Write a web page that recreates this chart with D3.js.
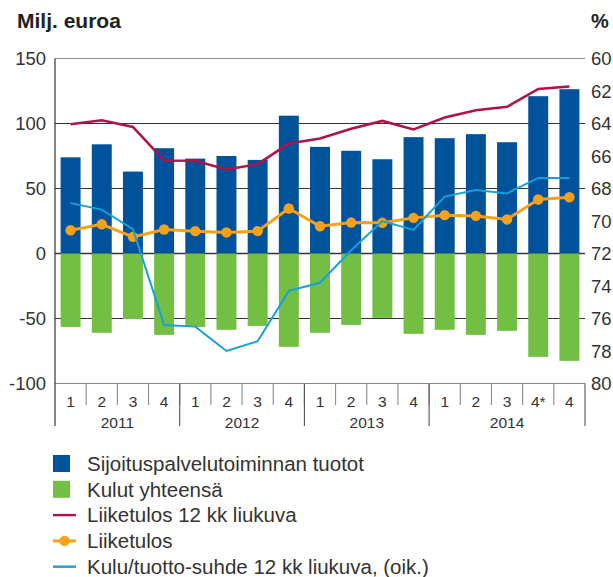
<!DOCTYPE html>
<html>
<head>
<meta charset="utf-8">
<script src="https://cdnjs.cloudflare.com/ajax/libs/d3/7.8.5/d3.min.js"></script>
<style>
	body { margin: 0; background: #fff; }
	svg { font-family: 'Liberation Sans', Arial, sans-serif; }
</style>
</head>
<body>
<div id="chart"></div>
<script>
// Neljännekset ja vuodet
var quarters = ['1', '2', '3', '4', '1', '2', '3', '4', '1', '2', '3', '4', '1', '2', '3', '4*', '4'];
var years = [
	{ label: '2011', from: 0, to: 4 },
	{ label: '2012', from: 4, to: 8 },
	{ label: '2013', from: 8, to: 12 },
	{ label: '2014', from: 12, to: 17 }
];

// Milj. euroa (vasen akseli)
var tuotot = [74, 84, 63, 81, 73, 75, 72, 106, 82, 79, 72.5, 89.5, 88.7, 91.8, 85.6, 121, 126.4];
var kulut = [-56.5, -61, -50.5, -62.6, -56.5, -58.7, -55.7, -71.8, -61, -54.9, -49.5, -61.8, -58.7, -62.6, -59.5, -79.5, -82.6];
var liiketulos12 = [99.4, 102.5, 97.4, 71.5, 71.3, 64.6, 68.7, 84.6, 88.5, 96, 102, 95.4, 104.6, 110.2, 112.8, 126.6, 128.5];
var liiketulos = [17.9, 22.5, 12.8, 18.5, 17.2, 16.2, 17.2, 34.6, 21, 23.8, 23.6, 27.4, 29.5, 28.9, 26.2, 41.5, 43.3];

// % (oikea akseli, käänteinen)
var kuluTuotto = [68.9, 69.3, 70.5, 76.4, 76.5, 78.0, 77.4, 74.3, 73.8, 71.8, 70.0, 70.55, 68.5, 68.1, 68.3, 67.35, 67.35];

var leftTicks = [150, 100, 50, 0, -50, -100];
var rightTicks = [60, 62, 64, 66, 68, 70, 72, 74, 76, 78, 80];

var colors = {
	tuotot: '#00529b',
	kulut: '#72bf44',
	liiketulos12: '#b0124a',
	liiketulos: '#f7a11a',
	kuluTuotto: '#169fdd',
	text: '#333'
};

var width = 613, height = 577;
var plot = { left: 55, right: 585, top: 58.5, bottom: 383.5 };

var svg = d3.select('#chart')
	.append('svg')
	.attr('width', width)
	.attr('height', height);

var idx = d3.range(quarters.length);

var x = d3.scaleBand()
	.domain(idx)
	.range([plot.left, plot.right])
	.paddingInner(0.36)
	.paddingOuter(0.18);

var yL = d3.scaleLinear().domain([-100, 150]).range([plot.bottom, plot.top]);
var yR = d3.scaleLinear().domain([80, 60]).range([plot.bottom, plot.top]);

var cx = function(i) { return x(i) + x.bandwidth() / 2; };
var edge = function(i) { return i === quarters.length ? plot.right : x(i) - x.step() * x.paddingInner() / 2; };

// Gridlines
svg.append('g')
	.selectAll('line')
	.data(leftTicks)
	.enter()
	.append('line')
	.attr('x1', plot.left)
	.attr('x2', plot.right)
	.attr('y1', function(d) { return yL(d); })
	.attr('y2', function(d) { return yL(d); })
	.style('stroke', function(d) { return (d === 150 || d === -100) ? '#8a8a8a' : '#333'; })
	.style('stroke-width', function(d) { return d === 0 ? 1.4 : 1.1; });

// Bars
svg.append('g')
	.selectAll('rect')
	.data(tuotot)
	.enter()
	.append('rect')
	.attr('x', function(d, i) { return x(i); })
	.attr('width', x.bandwidth())
	.attr('y', function(d) { return yL(d); })
	.attr('height', function(d) { return yL(0) - yL(d); })
	.style('fill', colors.tuotot);

svg.append('g')
	.selectAll('rect')
	.data(kulut)
	.enter()
	.append('rect')
	.attr('x', function(d, i) { return x(i); })
	.attr('width', x.bandwidth())
	.attr('y', yL(0))
	.attr('height', function(d) { return yL(d) - yL(0); })
	.style('fill', colors.kulut);

// Lines
var lineL = d3.line()
	.x(function(d, i) { return cx(i); })
	.y(function(d) { return yL(d); });
var lineR = d3.line()
	.x(function(d, i) { return cx(i); })
	.y(function(d) { return yR(d); });

svg.append('path')
	.attr('d', lineL(liiketulos12))
	.style('fill', 'none')
	.style('stroke', colors.liiketulos12)
	.style('stroke-width', 2.6);

svg.append('path')
	.attr('d', lineL(liiketulos))
	.style('fill', 'none')
	.style('stroke', colors.liiketulos)
	.style('stroke-width', 3);

svg.append('g')
	.selectAll('circle')
	.data(liiketulos)
	.enter()
	.append('circle')
	.attr('cx', function(d, i) { return cx(i); })
	.attr('cy', function(d) { return yL(d); })
	.attr('r', 5.2)
	.style('fill', colors.liiketulos);

svg.append('path')
	.attr('d', lineR(kuluTuotto))
	.style('fill', 'none')
	.style('stroke', colors.kuluTuotto)
	.style('stroke-width', 2);

// Left axis
svg.append('line')
	.attr('x1', plot.left).attr('x2', plot.left)
	.attr('y1', plot.top).attr('y2', 426)
	.style('stroke', '#333')
	.style('stroke-width', 1.2);

svg.append('g')
	.selectAll('text')
	.data(leftTicks)
	.enter()
	.append('text')
	.attr('x', 46)
	.attr('y', function(d) { return yL(d); })
	.attr('dy', '0.36em')
	.attr('text-anchor', 'end')
	.style('font-size', '18.5px')
	.style('fill', colors.text)
	.text(function(d) { return d; });

// Right axis
svg.append('g')
	.selectAll('text')
	.data(rightTicks)
	.enter()
	.append('text')
	.attr('x', 591)
	.attr('y', function(d) { return yR(d); })
	.attr('dy', '0.36em')
	.style('font-size', '18.5px')
	.style('fill', colors.text)
	.text(function(d) { return d; });

// Axis titles
svg.append('text')
	.attr('x', 17).attr('y', 28)
	.style('font-size', '21px')
	.style('font-weight', 'bold')
	.style('fill', '#222')
	.text('Milj. euroa');

svg.append('text')
	.attr('x', 591).attr('y', 28)
	.style('font-size', '20px')
	.style('font-weight', 'bold')
	.style('fill', '#222')
	.text('%');

// Category axis: quarter separators and labels
svg.append('g')
	.selectAll('line')
	.data(d3.range(1, quarters.length))
	.enter()
	.append('line')
	.attr('x1', edge)
	.attr('x2', edge)
	.attr('y1', plot.bottom)
	.attr('y2', 405)
	.style('stroke', '#8a8a8a')
	.style('stroke-width', 1.1);

svg.append('g')
	.selectAll('line')
	.data(years.slice(1).map(function(y) { return y.from; }).concat([quarters.length]))
	.enter()
	.append('line')
	.attr('x1', edge)
	.attr('x2', edge)
	.attr('y1', plot.bottom)
	.attr('y2', 426)
	.style('stroke', '#555')
	.style('stroke-width', 1.1);

svg.append('g')
	.selectAll('text')
	.data(quarters)
	.enter()
	.append('text')
	.attr('x', function(d, i) { return cx(i); })
	.attr('y', 407)
	.attr('text-anchor', 'middle')
	.style('font-size', '15.5px')
	.style('fill', colors.text)
	.text(function(d) { return d; });

svg.append('g')
	.selectAll('text')
	.data(years)
	.enter()
	.append('text')
	.attr('x', function(d) { return (cx(d.from) + cx(d.to - 1)) / 2; })
	.attr('y', 428)
	.attr('text-anchor', 'middle')
	.style('font-size', '15.5px')
	.style('fill', colors.text)
	.text(function(d) { return d.label; });

// Legend
var legend = [
	{ label: 'Sijoituspalvelutoiminnan tuotot', color: colors.tuotot, type: 'box' },
	{ label: 'Kulut yhteensä', color: colors.kulut, type: 'box' },
	{ label: 'Liiketulos 12 kk liukuva', color: colors.liiketulos12, type: 'line' },
	{ label: 'Liiketulos', color: colors.liiketulos, type: 'dot' },
	{ label: 'Kulu/tuotto-suhde 12 kk liukuva, (oik.)', color: colors.kuluTuotto, type: 'line' }
];

var lg = svg.append('g')
	.selectAll('g')
	.data(legend)
	.enter()
	.append('g')
	.attr('transform', function(d, i) { return 'translate(0,' + (463.5 + i * 25.8) + ')'; });

lg.filter(function(d) { return d.type === 'box'; })
	.append('rect')
	.attr('x', 53).attr('y', -8.5)
	.attr('width', 17).attr('height', 17)
	.style('fill', function(d) { return d.color; });

lg.filter(function(d) { return d.type !== 'box'; })
	.append('line')
	.attr('x1', 53).attr('x2', 76)
	.attr('y1', 0).attr('y2', 0)
	.style('stroke', function(d) { return d.color; })
	.style('stroke-width', function(d) { return d.type === 'dot' ? 3 : 2.4; });

lg.filter(function(d) { return d.type === 'dot'; })
	.append('circle')
	.attr('cx', 64.5).attr('cy', 0).attr('r', 5.2)
	.style('fill', function(d) { return d.color; });

lg.append('text')
	.attr('x', 87)
	.attr('y', 7.2)
	.style('font-size', '20.5px')
	.style('fill', colors.text)
	.text(function(d) { return d.label; });
</script>
</body>
</html>
